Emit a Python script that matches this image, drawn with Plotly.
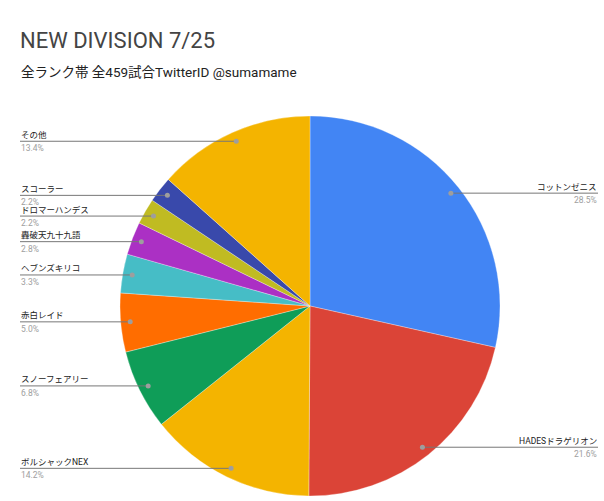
import math
import plotly.graph_objects as go

labels = ["コットンゼニス", "HADESドラゲリオン", "ボルシャックNEX", "スノーフェアリー", "赤白レイド",
          "ヘブンズキリコ", "轟破天九十九語", "ドロマーハンデス", "スコーラー", "その他"]
values = [28.5, 21.6, 14.2, 6.8, 5.0, 3.3, 2.8, 2.2, 2.2, 13.4]
colors = ["#4285F4", "#DB4437", "#F4B400", "#0F9D58", "#FF6D00",
          "#46BDC6", "#AB30C4", "#C0BB22", "#3949AB", "#F4B400"]

W, H = 604, 501
CX, CY, R = 310, 306, 190
FONT = "Roboto, 'Noto Sans CJK JP', sans-serif"

def px(x):
    return x / W

def py(y):
    return 1 - y / H

fig = go.Figure(go.Pie(
    labels=labels, values=values, sort=False, direction="clockwise", rotation=0,
    marker=dict(colors=colors, line=dict(color="white", width=0.3)),
    textinfo="none", hoverinfo="label+percent", showlegend=False,
    domain=dict(x=[px(CX - R), px(CX + R)], y=[py(CY + R), py(CY - R)]),
))

shapes = []
annotations = []
total = sum(values)
cum = 0.0
for lab, v in zip(labels, values):
    mid = (cum + v / 2) / total * 2 * math.pi
    cum += v
    dx = CX + 0.95 * R * math.sin(mid)
    dy = CY - 0.95 * R * math.cos(mid)
    right = math.sin(mid) > 0
    edge = 598 if right else 20
    shapes.append(dict(type="line", xref="paper", yref="paper",
                       x0=px(dx), y0=py(dy), x1=px(edge), y1=py(dy),
                       line=dict(color="#777777", width=1)))
    shapes.append(dict(type="circle", xref="paper", yref="paper",
                       x0=px(dx - 2.5), x1=px(dx + 2.5), y0=py(dy - 2.5), y1=py(dy + 2.5),
                       fillcolor="#9E9E9E", line=dict(width=0)))
    anchor = "right" if right else "left"
    annotations.append(dict(xref="paper", yref="paper", x=px(edge), y=py(dy - 6.5),
                            text=lab, showarrow=False, xanchor=anchor, yanchor="middle",
                            borderpad=0,
                            font=dict(family=FONT, size=8.5, color="#222222")))
    annotations.append(dict(xref="paper", yref="paper", x=px(edge), y=py(dy + 7),
                            text=f"{v / total * 100:.1f}%", showarrow=False, xanchor=anchor,
                            yanchor="middle", borderpad=0,
                            font=dict(family=FONT, size=8.5, color="#9E9E9E")))

annotations.append(dict(xref="paper", yref="paper", x=px(18), y=py(40), text="NEW DIVISION 7/25",
                        showarrow=False, xanchor="left", yanchor="middle",
                        font=dict(family=FONT, size=22, color="#444444")))
annotations.append(dict(xref="paper", yref="paper", x=px(19), y=py(72),
                        text="全ランク帯 全459試合TwitterID @sumamame",
                        showarrow=False, xanchor="left", yanchor="middle",
                        font=dict(family=FONT, size=13.5, color="#222222")))

fig.update_layout(width=W, height=H, margin=dict(l=0, r=0, t=0, b=0),
                  paper_bgcolor="white", plot_bgcolor="white",
                  shapes=shapes, annotations=annotations)
fig.write_html("out.html")
